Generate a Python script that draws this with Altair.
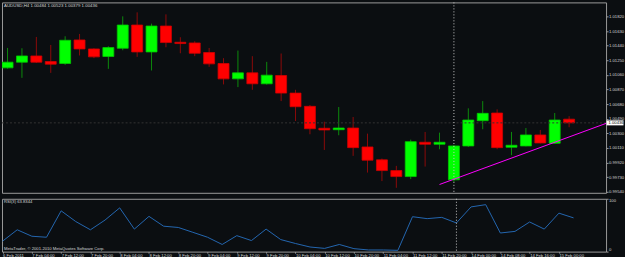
import altair as alt
import pandas as pd

# ---------------- data ----------------
bar_index = list(range(40))
opens = [1.01151, 1.01225, 1.01306, 1.01234, 1.01208, 1.01514, 1.01397, 1.01299, 1.01406, 1.01708,
         1.01358, 1.01695, 1.01484, 1.01475, 1.01351, 1.01208, 1.01008, 1.01086, 1.00944, 1.01052,
         1.00823, 1.00651, 1.00366, 1.00347, 1.00369, 1.00123, 0.99955, 0.99816, 0.99738, 1.00184,
         1.00158, 0.99696, 1.00136, 1.00464, 1.00564, 1.00119, 1.00136, 1.00279, 1.00171, 1.00484]
highs = [1.01410, 1.01406, 1.01553, 1.01449, 1.01562, 1.01592, 1.01406, 1.01432, 1.01821, 1.01873,
         1.01726, 1.01847, 1.01549, 1.01497, 1.01410, 1.01277, 1.01376, 1.01303, 1.01229, 1.01338,
         1.00866, 1.00668, 1.00451, 1.00642, 1.00512, 1.00296, 0.99972, 0.99877, 1.00218, 1.00318,
         1.00309, 1.00149, 1.00625, 1.00719, 1.00612, 1.00318, 1.00369, 1.00344, 1.00564, 1.00523]
lows = [1.01141, 1.01021, 1.01216, 1.01086, 1.01190, 1.01312, 1.01277, 1.01138, 1.01380, 1.01294,
        1.01117, 1.01419, 1.01341, 1.01303, 1.01164, 1.00936, 1.00901, 1.00866, 1.00933, 1.00719,
        1.00460, 1.00288, 1.00084, 1.00275, 1.00007, 0.99790, 0.99679, 0.99592, 0.99705, 0.99868,
        1.00093, 0.99670, 1.00123, 1.00353, 1.00093, 1.00016, 1.00130, 1.00169, 1.00165, 1.00379]
closes = [1.01225, 1.01306, 1.01225, 1.01199, 1.01510, 1.01397, 1.01294, 1.01415, 1.01708, 1.01358,
          1.01695, 1.01480, 1.01467, 1.01341, 1.01203, 1.01008, 1.01086, 1.00944, 1.01056, 1.00823,
          1.00646, 1.00360, 1.00344, 1.00369, 1.00114, 0.99951, 0.99816, 0.99738, 1.00192, 1.00158,
          1.00184, 1.00136, 1.00473, 1.00560, 1.00114, 1.00145, 1.00279, 1.00175, 1.00473, 1.00436]
rsi_values = [19.8, 41.3, 29.1, 27.2, 77.2, 56.9, 41.3, 59.8, 82.8, 42.6,
              66.7, 48.1, 45.7, 36.5, 27.2, 13.5, 30.2, 20.9, 42.6, 22.8,
              15.4, 8.7, 6.1, 13.5, 5.6, 3.1, 3.1, 2.4, 66.1, 62.4,
              64.8, 54.3, 84.6, 88.9, 35.2, 38.3, 56.1, 42.6, 72.8, 63.8344]

tick_bars = [0, 2, 4, 6, 8, 10, 12, 14, 16, 18, 20, 22, 24, 26, 28, 30, 32, 34, 36, 38]
tick_labels = ["6 Feb 2011", "7 Feb 04:00", "7 Feb 12:00", "7 Feb 20:00", "8 Feb 04:00",
               "8 Feb 12:00", "8 Feb 20:00", "9 Feb 04:00", "9 Feb 12:00", "9 Feb 20:00",
               "10 Feb 04:00", "10 Feb 12:00", "10 Feb 20:00", "11 Feb 04:00", "11 Feb 12:00",
               "11 Feb 20:00", "14 Feb 00:00", "14 Feb 08:00", "14 Feb 16:00", "15 Feb 00:00"]
price_ticks = [0.99540, 0.99730, 0.99920, 1.00110, 1.00300, 1.00490, 1.00680,
               1.00870, 1.01060, 1.01250, 1.01440, 1.01630, 1.01820]
rsi_ticks = [0, 100]
last_price = 1.00436
separator_bar = [31]
trend_bars = [30, 42]
trend_prices = [0.99635, 1.00459]

symbol = "AUDUSD,H4"
rsi_name = "RSI(3)"
copyright_text = "MetaTrader, \u00a9 2001-2010 MetaQuotes Software Corp."

# ---------------- tables ----------------
df = pd.DataFrame({"i": bar_index, "open": opens, "high": highs, "low": lows,
                   "close": closes, "rsi": rsi_values})
df["dir"] = ["up" if c >= o else "down" for o, c in zip(opens, closes)]

FONT = "Liberation Sans"
FS = 4.2
TXT = "#d4d4d4"
BG = "#0b0e11"

xscale = alt.Scale(domain=[-0.04, 41.22], nice=False, zero=False)
pscale = alt.Scale(domain=[0.99527, 1.02002], nice=False, zero=False)
X = alt.X("i:Q", scale=xscale, axis=None)

body_fill = alt.Fill("dir:N", scale=alt.Scale(domain=["up", "down"], range=["#00ff00", "#ff0000"]), legend=None)
body_str = alt.Stroke("dir:N", scale=alt.Scale(domain=["up", "down"], range=["#00c800", "#d00000"]), legend=None)
wick_col = alt.Color("dir:N", scale=alt.Scale(domain=["up", "down"], range=["#0c8a0c", "#8c0a0a"]), legend=None)

price_axis = alt.Axis(orient="right", values=price_ticks, tickCount=100, format=".5f", title=None,
                      labelOverlap=False, labelBound=False)

base = alt.Chart(df)

wicks = base.mark_rule(strokeWidth=1, clip=True).encode(
    x=X,
    y=alt.Y("low:Q", scale=pscale, axis=price_axis),
    y2="high:Q",
    color=wick_col,
)
bodies = base.mark_bar(size=11, strokeWidth=0.8, clip=True, fillOpacity=1).encode(
    x=X,
    y=alt.Y("open:Q", scale=pscale),
    y2="close:Q",
    fill=body_fill,
    stroke=body_str,
)

price_df = pd.DataFrame({"p": [last_price], "label": [f"{last_price:.5f}"]})
price_line = alt.Chart(price_df).mark_rule(color="#333333", strokeDash=[2, 2], strokeWidth=1).encode(
    y=alt.Y("p:Q", scale=pscale)
)
price_box = alt.Chart(price_df).mark_tick(orient="horizontal", color="#ffffff", size=17,
                                          thickness=5, opacity=1, clip=False).encode(
    x=alt.value(615), y=alt.Y("p:Q", scale=pscale)
)
price_txt = alt.Chart(price_df).mark_text(align="left", baseline="middle", font=FONT,
                                          fontSize=FS, color="#000000").encode(
    x=alt.value(608.5), y=alt.Y("p:Q", scale=pscale), text="label:N"
)

sep_df = pd.DataFrame({"i": separator_bar})
sep_main = alt.Chart(sep_df).mark_rule(color="#c8c8c8", strokeDash=[1, 2], strokeWidth=1).encode(x=X)

trend_df = pd.DataFrame({"i": trend_bars, "p": trend_prices})
trend = alt.Chart(trend_df).mark_line(color="#ff00ff", strokeWidth=1, clip=True).encode(
    x=X, y=alt.Y("p:Q", scale=pscale)
)

title_df = pd.DataFrame({"t": [f"{symbol}  {opens[-1]:.5f} {highs[-1]:.5f} {lows[-1]:.5f} {closes[-1]:.5f}"]})
title_txt = alt.Chart(title_df).mark_text(align="left", baseline="top", font=FONT, fontSize=4.4,
                                          color=TXT).encode(
    x=alt.value(2), y=alt.value(2), text="t:N"
)

main = alt.layer(wicks, bodies, price_line, sep_main, trend, title_txt, price_box, price_txt).properties(
    width=606, height=191
)

# ---------------- RSI panel ----------------
rscale = alt.Scale(domain=[0, 100], nice=False, zero=False)
date_expr = ("[" + ",".join(f"'{t}'" for t in tick_labels) + "][indexof(["
             + ",".join(str(b) for b in tick_bars) + "], datum.value)]")
date_axis = alt.Axis(orient="bottom", values=tick_bars, tickCount=100, labelExpr=date_expr,
                     labelAlign="left", labelOverlap=False, labelBound=False, labelFlush=False,
                     title=None, labelPadding=0, tickSize=1.5)

rsi_line = alt.Chart(df).mark_line(color="#2466b0", strokeWidth=1, clip=True).encode(
    x=alt.X("i:Q", scale=xscale, axis=date_axis),
    y=alt.Y("rsi:Q", scale=rscale,
            axis=alt.Axis(orient="right", values=rsi_ticks, tickCount=100, format="d", title=None,
                          labelFlush=True, labelOverlap=False)),
)
sep_rsi = alt.Chart(sep_df).mark_rule(color="#c8c8c8", strokeDash=[1, 2], strokeWidth=1).encode(
    x=alt.X("i:Q", scale=xscale)
)
rsi_txt_df = pd.DataFrame({"t": [f"{rsi_name} {rsi_values[-1]:.4f}"]})
rsi_txt = alt.Chart(rsi_txt_df).mark_text(align="left", baseline="top", font=FONT, fontSize=FS,
                                          color=TXT).encode(x=alt.value(2), y=alt.value(1.5), text="t:N")
copy_df = pd.DataFrame({"t": [copyright_text]})
copy_txt = alt.Chart(copy_df).mark_text(align="left", baseline="bottom", font=FONT, fontSize=FS,
                                        color=TXT).encode(x=alt.value(2), y=alt.value(52), text="t:N")

rsi = alt.layer(rsi_line, sep_rsi, rsi_txt, copy_txt).properties(width=606, height=53)

chart = alt.vconcat(main, rsi, spacing=3).properties(
    padding={"left": 1, "top": 1, "right": 0, "bottom": 0},
    background=BG,
).configure_view(
    stroke="#9a9a9a", strokeWidth=1
).configure_axis(
    labelFont=FONT, labelFontSize=FS, labelColor=TXT, tickColor="#9a9a9a", tickSize=2,
    domain=False, grid=False, labelPadding=0.5, labelOverlap=False, labelBound=False
)

chart.save("out.html", embed_options={"renderer": "svg", "actions": False})
